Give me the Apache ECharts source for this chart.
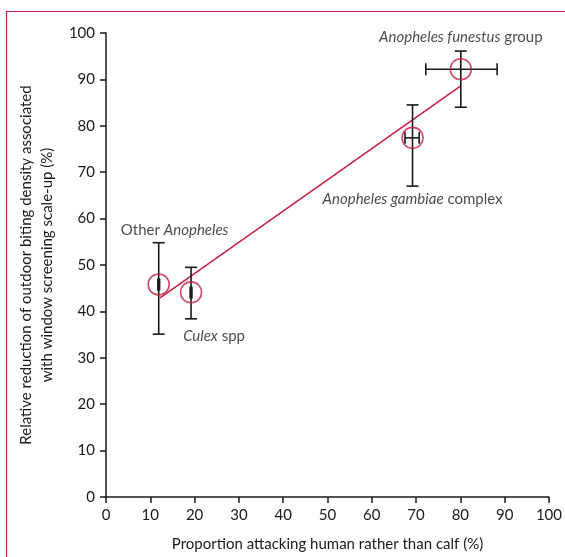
<!DOCTYPE html>
<html><head><meta charset="utf-8">
<script src="https://cdn.jsdelivr.net/npm/echarts@6/dist/echarts.min.js"></script>
<style>html,body{margin:0;padding:0;background:#fff}#c{width:565px;height:557px}</style>
</head><body><div id="c"></div>
<script>
const species = ['Other Anopheles', 'Culex spp', 'Anopheles gambiae complex', 'Anopheles funestus group'];
const humanPct = [11.9, 19.2, 69.2, 80.1];
const humanLow = [11.7, 19.0, 67.5, 72.2];
const humanHigh = [12.1, 19.4, 70.7, 88.3];
const reduction = [45.8, 44.1, 77.4, 92.2];
const reductionLow = [35.1, 38.4, 67.0, 84.0];
const reductionHigh = [54.8, 49.5, 84.5, 96.1];
const fitX = [12.2, 80.1];
const fitY = [42.9, 88.6];
const xTicks = [0,10,20,30,40,50,60,70,80,90,100];
const yTicks = [0,10,20,30,40,50,60,70,80,90,100];

const RED = '#c41e45';
const INK = '#1a1a1a';
const FONT = 'Lato';
const FS = 15;

const labelCfg = [
  {text: 'Other {i|Anopheles}', offset: [16, -54]},
  {text: '{i|Culex} spp', offset: [23, 44]},
  {text: '{i|Anopheles gambiae} complex', offset: [0, 61]},
  {text: '{i|Anopheles funestus} group', offset: [0, -32]}
];

const errData = species.map((s, i) => [humanPct[i], reduction[i], humanLow[i], humanHigh[i], reductionLow[i], reductionHigh[i]]);

const chart = echarts.init(document.getElementById('c'), null, {renderer: 'canvas'});
chart.setOption({
  animation: false,
  textStyle: {fontFamily: FONT},
  graphic: [{
    type: 'polyline', silent: true,
    shape: {points: [[6.5, 570], [6.5, 11.5], [580, 11.5]]},
    style: {stroke: RED, lineWidth: 1.2, fill: null}
  }],
  grid: {left: 106, right: 16, top: 33, bottom: 60},
  xAxis: {
    type: 'value', min: 0, max: 100, interval: 10,
    name: 'Proportion attacking human rather than calf (%)',
    nameLocation: 'middle', nameGap: 40,
    nameTextStyle: {fontSize: FS, color: INK, fontFamily: FONT},
    axisLine: {show: true, onZero: false, lineStyle: {color: INK, width: 1.5}},
    axisTick: {show: true, length: 6, lineStyle: {color: INK, width: 1.5}},
    axisLabel: {fontSize: FS, color: INK, margin: 11, fontFamily: FONT,
      formatter: v => xTicks.includes(v) ? String(v) : ''},
    splitLine: {show: false}
  },
  yAxis: {
    type: 'value', min: 0, max: 100, interval: 10,
    name: 'Relative reduction of outdoor biting density associated\nwith window screening scale-up (%)',
    nameLocation: 'middle', nameGap: 44,
    nameTextStyle: {fontSize: FS, color: INK, fontFamily: FONT, lineHeight: 21},
    axisLine: {show: true, onZero: false, lineStyle: {color: INK, width: 1.5}},
    axisTick: {show: true, length: 6, lineStyle: {color: INK, width: 1.5}},
    axisLabel: {fontSize: FS, color: INK, margin: 11, fontFamily: FONT,
      formatter: v => yTicks.includes(v) ? String(v) : ''},
    splitLine: {show: false}
  },
  series: [
    {
      type: 'line', data: fitX.map((x, i) => [x, fitY[i]]),
      symbol: 'none', lineStyle: {color: RED, width: 1.5}, z: 2, silent: true
    },
    {
      type: 'custom', z: 3, silent: true,
      data: errData,
      renderItem: function (params, api) {
        const x = api.value(0), y = api.value(1);
        const xl = api.value(2), xh = api.value(3), yl = api.value(4), yh = api.value(5);
        const pTop = api.coord([x, yh]), pBot = api.coord([x, yl]);
        const pL = api.coord([xl, y]), pR = api.coord([xh, y]);
        const cap = 6;
        const st = {stroke: INK, lineWidth: 1.6};
        const children = [
          {type: 'line', shape: {x1: pTop[0], y1: pTop[1], x2: pBot[0], y2: pBot[1]}, style: st},
          {type: 'line', shape: {x1: pTop[0] - cap, y1: pTop[1], x2: pTop[0] + cap, y2: pTop[1]}, style: st},
          {type: 'line', shape: {x1: pBot[0] - cap, y1: pBot[1], x2: pBot[0] + cap, y2: pBot[1]}, style: st},
          {type: 'line', shape: {x1: pL[0], y1: pL[1], x2: pR[0], y2: pR[1]}, style: st},
          {type: 'line', shape: {x1: pL[0], y1: pL[1] - cap, x2: pL[0], y2: pL[1] + cap}, style: st},
          {type: 'line', shape: {x1: pR[0], y1: pR[1] - cap, x2: pR[0], y2: pR[1] + cap}, style: st}
        ];
        return {type: 'group', children: children};
      }
    },
    {
      type: 'scatter', z: 4,
      data: humanPct.map((x, i) => ({
        value: [x, reduction[i]],
        label: {
          show: true, position: 'inside', offset: labelCfg[i].offset,
          formatter: labelCfg[i].text,
          fontSize: FS, color: INK, fontFamily: FONT,
          rich: {i: {fontStyle: 'italic', fontSize: FS, color: INK, fontFamily: FONT}}
        }
      })),
      symbol: 'circle', symbolSize: 21,
      itemStyle: {color: 'rgba(0,0,0,0)', borderColor: RED, borderWidth: 1.6}
    }
  ]
});
</script></body></html>
